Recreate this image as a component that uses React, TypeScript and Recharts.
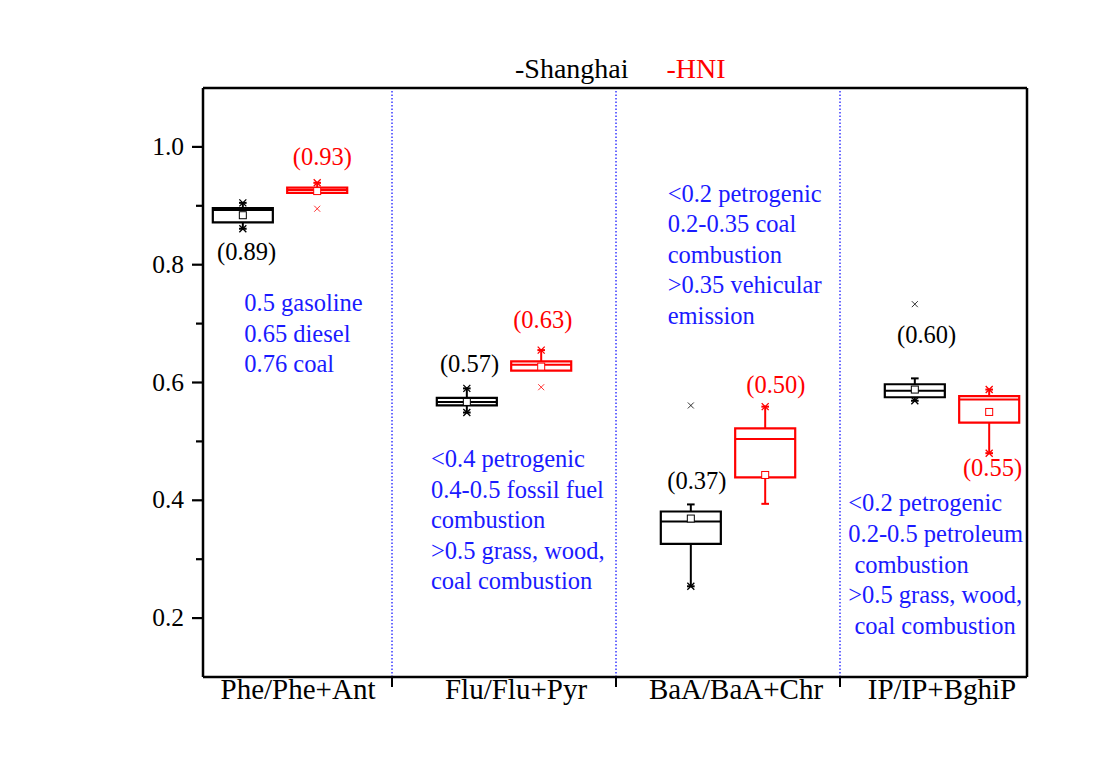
import React from 'react'
import {
  ComposedChart, XAxis, YAxis, Scatter, ReferenceArea, ReferenceLine, Legend,
} from 'recharts'

const FONT = "'Liberation Serif', 'Times New Roman', serif"
const BLUE = '#1a1aff'
const RED = '#ff0000'

const categories = ['Phe/Phe+Ant', 'Flu/Flu+Pyr', 'BaA/BaA+Chr', 'IP/IP+BghiP']
const seriesNames = ['-Shanghai', '-HNI']

// Shanghai boxes
const shMin = [0.861, 0.549, 0.254, 0.569]
const shQ1 = [0.872, 0.561, 0.326, 0.575]
const shMedian = [0.893, 0.567, 0.364, 0.586]
const shQ3 = [0.896, 0.574, 0.381, 0.597]
const shMax = [0.905, 0.59, 0.393, 0.607]
const shMean = [0.884, 0.567, 0.369, 0.588]
const shMinMark = [true, true, true, true]
const shMaxMark = [true, true, false, false]
const shOutliers = [[], [], [0.561], [0.733]]
const shLabels = ['(0.89)', '(0.57)', '(0.37)', '(0.60)']
const shLabelX = [0.851, 1.846, 2.861, 3.887]
const shLabelY = [0.808, 0.618, 0.419, 0.667]

// HNI boxes
const hnMin = [0.922, 0.62, 0.394, 0.48]
const hnQ1 = [0.922, 0.62, 0.439, 0.532]
const hnMedian = [0.927, 0.63, 0.504, 0.571]
const hnQ3 = [0.931, 0.636, 0.522, 0.577]
const hnMax = [0.939, 0.655, 0.559, 0.588]
const hnMean = [0.925, 0.627, 0.443, 0.55]
const hnMinMark = [false, false, false, true]
const hnMaxMark = [true, true, true, true]
const hnOutliers = [[0.895], [0.592], [], []]
const hnLabels = ['(0.93)', '(0.63)', '(0.50)', '(0.55)']
const hnLabelX = [1.189, 2.173, 3.214, 4.181]
const hnLabelY = [0.969, 0.693, 0.582, 0.441]

// source ratio notes (blue)
const noteLines = [
  ['0.5 gasoline', '0.65 diesel', '0.76 coal'],
  ['<0.4 petrogenic', '0.4-0.5 fossil fuel', 'combustion', '>0.5 grass, wood,', 'coal combustion'],
  ['<0.2 petrogenic', '0.2-0.35 coal', 'combustion', '>0.35 vehicular', 'emission'],
  ['<0.2 petrogenic', '0.2-0.5 petroleum', ' combustion', '>0.5 grass, wood,', ' coal combustion'],
]
const noteX = [0.8406, 1.674, 2.7307, 3.537]
const noteY = [0.7214, 0.4565, 0.9073, 0.381]

const yTicks = [0.2, 0.3, 0.4, 0.5, 0.6, 0.7, 0.8, 0.9, 1.0]
const xTicks = [1, 1.5, 2, 2.5, 3, 3.5, 4]
const sepTicks = [1.5, 2.5, 3.5]
const catLabelShift = [18, 12, 8, -10]

const HALF = 0.134
const CAP = 0.017

const series = [
  {
    color: '#000000', shift: -0.166, min: shMin, q1: shQ1, med: shMedian, q3: shQ3, max: shMax,
    mean: shMean, minMark: shMinMark, maxMark: shMaxMark, outliers: shOutliers,
    labels: shLabels, labelX: shLabelX, labelY: shLabelY,
  },
  {
    color: RED, shift: 0.166, min: hnMin, q1: hnQ1, med: hnMedian, q3: hnQ3, max: hnMax,
    mean: hnMean, minMark: hnMinMark, maxMark: hnMaxMark, outliers: hnOutliers,
    labels: hnLabels, labelX: hnLabelX, labelY: hnLabelY,
  },
]

const Cross = (props: any) => {
  const { cx, cy, fill } = props
  const r = 3.5
  return (
    <path
      d={`M${cx - r},${cy - r}L${cx + r},${cy + r}M${cx - r},${cy + r}L${cx + r},${cy - r}`}
      stroke={fill} strokeWidth={1.3} fill="none"
    />
  )
}

const SmallCross = (props: any) => {
  const { cx, cy, fill } = props
  const r = 3
  return (
    <path
      d={`M${cx - r},${cy - r}L${cx + r},${cy + r}M${cx - r},${cy + r}L${cx + r},${cy - r}`}
      stroke={fill} strokeWidth={1} fill="none" opacity={0.8}
    />
  )
}

const MeanSquare = (props: any) => {
  const { cx, cy, fill } = props
  return <rect x={cx - 3.5} y={cy - 3.5} width={7} height={7} fill="#fff" stroke={fill} strokeWidth={1} />
}

const ValueLabel = (props: any) => {
  const { cx, cy, fill, payload } = props
  return (
    <text x={cx} y={cy} textAnchor="middle" fill={fill} fontFamily={FONT} fontSize={24.5}>
      {payload.text}
    </text>
  )
}

const Note = (props: any) => {
  const { cx, cy, payload } = props
  return (
    <text x={cx} y={cy} fill={BLUE} fontFamily={FONT} fontSize={24.5} style={{ whiteSpace: 'pre' }}>
      {payload.lines.map((l: string, i: number) => (
        <tspan key={i} x={cx} dy={i === 0 ? 0 : 30.6}>{l}</tspan>
      ))}
    </text>
  )
}

const YTick = (props: any) => {
  const { x, y, payload } = props
  const v = payload.value
  const major = Math.round(v * 10) % 2 === 0
  return (
    <g>
      <line x1={x - (major ? 11 : 7)} x2={x} y1={y} y2={y} stroke="#000" strokeWidth={2.2} />
      {major && (
        <text x={x - 19} y={y + 8} textAnchor="end" fontFamily={FONT} fontSize={25.5} fill="#000">
          {v.toFixed(1)}
        </text>
      )}
    </g>
  )
}

const XTick = (props: any) => {
  const { x, y, payload } = props
  const v = payload.value
  if (Number.isInteger(v)) {
    const i = v - 1
    return (
      <text x={x + catLabelShift[i]} y={y + 22} textAnchor="middle" fontFamily={FONT} fontSize={29} fill="#000">
        {categories[i]}
      </text>
    )
  }
  return <line x1={x} x2={x} y1={y} y2={y + 10} stroke="#000" strokeWidth={2} />
}

const TopTick = (props: any) => {
  const { x, y } = props
  return <line x1={x} x2={x} y1={y} y2={y + 7} stroke="#000" strokeWidth={2} />
}

const LegendContent = () => (
  <div style={{ fontFamily: FONT, fontSize: 28, lineHeight: '31px', whiteSpace: 'pre' }}>
    <span style={{ color: '#000' }}>{seriesNames[0]}</span>
    <span style={{ color: RED, marginLeft: 38 }}>{seriesNames[1]}</span>
  </div>
)

export default function App() {
  const boxEls: React.ReactNode[] = []
  series.forEach((s, si) => {
    categories.forEach((_, i) => {
      const p = i + 1 + s.shift
      const k = `${si}-${i}`
      if (s.max[i] > s.q3[i]) {
        boxEls.push(
          <ReferenceLine key={`wu${k}`} segment={[{ x: p, y: s.q3[i] }, { x: p, y: s.max[i] }]} stroke={s.color} strokeWidth={2} />,
          <ReferenceLine key={`cu${k}`} segment={[{ x: p - CAP, y: s.max[i] }, { x: p + CAP, y: s.max[i] }]} stroke={s.color} strokeWidth={2} />,
        )
      }
      if (s.min[i] < s.q1[i]) {
        boxEls.push(
          <ReferenceLine key={`wl${k}`} segment={[{ x: p, y: s.q1[i] }, { x: p, y: s.min[i] }]} stroke={s.color} strokeWidth={2} />,
          <ReferenceLine key={`cl${k}`} segment={[{ x: p - CAP, y: s.min[i] }, { x: p + CAP, y: s.min[i] }]} stroke={s.color} strokeWidth={2} />,
        )
      }
      boxEls.push(
        <ReferenceArea
          key={`b${k}`} x1={p - HALF} x2={p + HALF} y1={s.q1[i]} y2={s.q3[i]}
          fill="none" fillOpacity={0} stroke={s.color} strokeWidth={2.2} ifOverflow="visible"
        />,
        <ReferenceLine key={`m${k}`} segment={[{ x: p - HALF, y: s.med[i] }, { x: p + HALF, y: s.med[i] }]} stroke={s.color} strokeWidth={2} />,
      )
    })
  })

  const seriesPoints = series.map((s) => {
    const ends: { x: number; y: number }[] = []
    const outs: { x: number; y: number }[] = []
    const means: { x: number; y: number }[] = []
    const labels: { x: number; y: number; text: string }[] = []
    categories.forEach((_, i) => {
      const p = i + 1 + s.shift
      if (s.minMark[i]) ends.push({ x: p, y: s.min[i] })
      if (s.maxMark[i]) ends.push({ x: p, y: s.max[i] })
      s.outliers[i].forEach((o) => outs.push({ x: p, y: o }))
      means.push({ x: p, y: s.mean[i] })
      labels.push({ x: s.labelX[i], y: s.labelY[i], text: s.labels[i] })
    })
    return { ends, outs, means, labels }
  })

  const notes = noteLines.map((lines, i) => ({ x: noteX[i], y: noteY[i], lines }))

  return (
    <div style={{ position: 'absolute', left: 0, top: 0, background: '#fff' }}>
      <ComposedChart width={1103} height={763} margin={{ top: 78, right: 66, bottom: 46, left: 143 }}>
        <XAxis
          type="number" dataKey="x" domain={[0.6562, 4.3348]} allowDataOverflow
          ticks={xTicks} interval={0} tick={<XTick />} tickLine={false} tickSize={0} tickMargin={0}
          axisLine={{ stroke: '#000', strokeWidth: 2.5 }} height={40}
        />
        <XAxis
          xAxisId="top" orientation="top" type="number" domain={[0.6562, 4.3348]} allowDataOverflow
          ticks={sepTicks} interval={0} tick={<TopTick />} tickLine={false} tickSize={0} tickMargin={0}
          axisLine={{ stroke: '#000', strokeWidth: 2.5 }} height={10}
        />
        <YAxis
          type="number" dataKey="y" domain={[0.1, 1.1]} allowDataOverflow
          ticks={yTicks} interval={0} tick={<YTick />} tickLine={false} tickSize={0} tickMargin={0}
          axisLine={{ stroke: '#000', strokeWidth: 2.5 }} width={60}
        />
        <YAxis
          yAxisId="right" orientation="right" type="number" domain={[0.1, 1.1]}
          tick={false} tickLine={false} axisLine={{ stroke: '#000', strokeWidth: 2.5 }} width={10}
        />
        <Legend
          verticalAlign="middle" align="center" layout="horizontal"
          wrapperStyle={{ top: 53, left: 515, width: 300 }} content={<LegendContent />}
        />
        {sepTicks.map((t) => (
          <ReferenceLine key={`sep${t}`} x={t} stroke={BLUE} strokeWidth={1.3} strokeDasharray="1.5 2" />
        ))}
        {boxEls}
        {seriesPoints.map((sp, si) => [
          <Scatter key={`e${si}`} data={sp.ends} fill={series[si].color} shape={<Cross />} isAnimationActive={false} />,
          <Scatter key={`o${si}`} data={sp.outs} fill={series[si].color} shape={<SmallCross />} isAnimationActive={false} />,
          <Scatter key={`mn${si}`} data={sp.means} fill={series[si].color} shape={<MeanSquare />} isAnimationActive={false} />,
          <Scatter key={`l${si}`} data={sp.labels} fill={series[si].color} shape={<ValueLabel />} isAnimationActive={false} />,
        ])}
        <Scatter data={notes} fill={BLUE} shape={<Note />} isAnimationActive={false} />
      </ComposedChart>
    </div>
  )
}
